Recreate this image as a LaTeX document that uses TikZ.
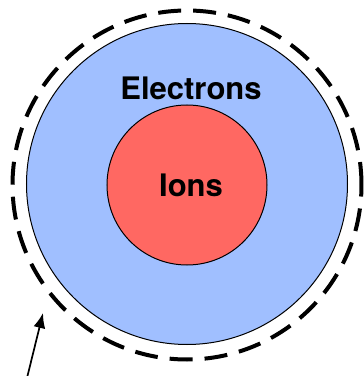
\documentclass[tikz,border=0pt]{standalone}
\usepackage{fontspec}
\setmainfont{TeX Gyre Heros}
\usetikzlibrary{arrows.meta}
\definecolor{eblue}{RGB}{160,191,255}
\definecolor{ired}{RGB}{255,104,98}
\begin{document}
\begin{tikzpicture}[x=1pt,y=1pt,
  ball/.style={circle,draw=black,line width=1pt,inner sep=0pt},
  lbl/.style={font=\fontsize{31}{31}\selectfont\bfseries},
  shell/.style={circle,draw=black,line width=4pt,dash pattern=on 23pt off 12pt,inner sep=0pt,minimum size=349pt}]
\useasboundingbox (0,0) rectangle (364,376);
\node[shell] (sheath) at (187,191) {};
\node[ball,fill=eblue,minimum size=321pt] (electrons) at (187,192) {};
\node[ball,fill=ired,minimum size=160pt] (ions) at (187,191) {};
\node[lbl] at (191,191) {Ions};
\node[lbl] (elabel) at (191,288) {Electrons};
\coordinate (tail) at (27,-2);
\coordinate (tip) at (43,63);
\draw[line width=1.7pt,-{Latex[length=15pt,width=12pt]}] (tail) -- (tip);
\end{tikzpicture}
\end{document}
